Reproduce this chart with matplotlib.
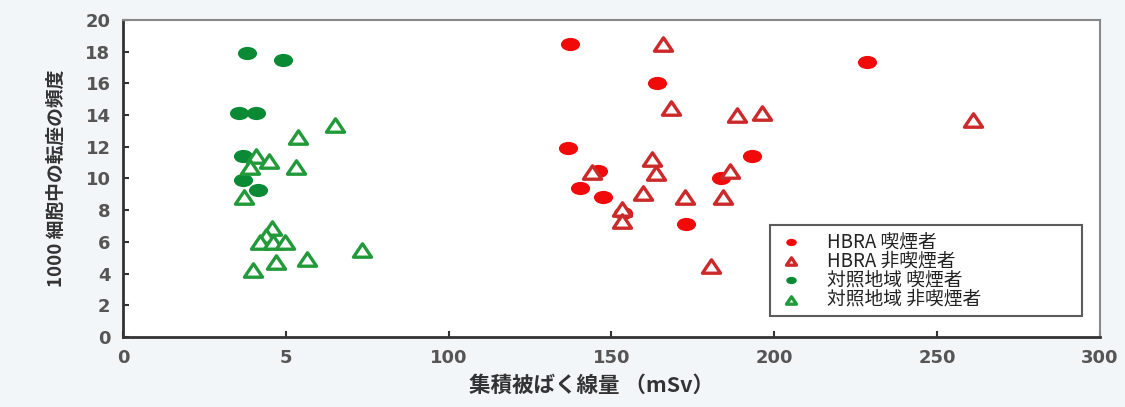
import numpy as np
import matplotlib
matplotlib.use("Agg")
import matplotlib.pyplot as plt
from matplotlib.path import Path

plt.rcParams["font.family"] = ["Noto Sans CJK JP", "DejaVu Sans"]

# ---------------------------------------------------------
# Data
# ---------------------------------------------------------
hbra_smoker_x = [137.2, 164.0, 228.4, 136.6, 193.1, 145.8, 140.3, 147.4, 183.6, 172.9, 153.5]
hbra_smoker_y = [18.5, 16.0, 17.35, 11.9, 11.4, 10.5, 9.4, 8.8, 10.0, 7.1, 7.8]

hbra_non_x = [165.8, 168.3, 188.5, 196.2, 261.0, 162.4, 163.6, 144.0, 159.7,
              172.6, 184.2, 186.4, 153.2, 153.2, 180.5]
hbra_non_y = [18.5, 14.45, 14.0, 14.1, 13.7, 11.2, 10.35, 10.4, 9.1,
              8.8, 8.8, 10.5, 8.1, 7.3, 4.5]

ctrl_smoker_x = [38.1, 49.1, 35.5, 40.8, 36.8, 36.8, 41.4]
ctrl_smoker_y = [17.9, 17.5, 14.1, 14.1, 11.4, 9.9, 9.3]

ctrl_non_x = [65.0, 53.7, 40.8, 44.8, 39.0, 53.1, 37.2, 45.7, 43.9,
              42.1, 46.0, 49.7, 73.4, 56.5, 47.0, 39.9]
ctrl_non_y = [13.4, 12.6, 11.4, 11.1, 10.7, 10.7, 8.8, 6.9, 6.4,
              6.0, 6.0, 6.0, 5.5, 4.9, 4.7, 4.2]

series_labels = ["HBRA 喫煙者", "HBRA 非喫煙者", "対照地域 喫煙者", "対照地域 非喫煙者"]

x_ticks = [0, 50, 100, 150, 200, 250, 300]
x_tick_labels = ["0", "5", "100", "150", "200", "250", "300"]
y_ticks = list(range(0, 21, 2))

# ---------------------------------------------------------
# Stretched markers (the source picture is squashed vertically)
# ---------------------------------------------------------
circ = Path.unit_circle()
oval = Path(circ.vertices * [1.45, 1.0], circ.codes)
tri = Path(np.array([[0, 1], [-1.35, -1], [1.35, -1], [0, 1]]),
           [Path.MOVETO, Path.LINETO, Path.LINETO, Path.CLOSEPOLY])

fig = plt.figure(figsize=(11.25, 4.07), dpi=100, facecolor="#f3f6f9")
ax = fig.add_axes([0.1093, 0.172, 0.8685, 0.779])
ax.set_facecolor("white")

ax.scatter(hbra_smoker_x, hbra_smoker_y, marker=oval, s=190, color="#f20a0a",
           linewidths=0, zorder=3, label=series_labels[0])
ax.scatter(hbra_non_x, hbra_non_y, marker=tri, s=170, facecolors="white",
           edgecolors="#cc2a2a", linewidths=2.4, zorder=4, label=series_labels[1])
ax.scatter(ctrl_smoker_x, ctrl_smoker_y, marker=oval, s=190, color="#0b8a36",
           linewidths=0, zorder=3, label=series_labels[2])
ax.scatter(ctrl_non_x, ctrl_non_y, marker=tri, s=170, facecolors="white",
           edgecolors="#229a3a", linewidths=2.4, zorder=4, label=series_labels[3])

ax.set_xlim(0, 300)
ax.set_ylim(0, 20)
ax.set_xticks(x_ticks)
ax.set_xticklabels(x_tick_labels)
ax.set_yticks(y_ticks)
ax.tick_params(direction="in", length=4, width=1.5, colors="#333333",
               labelcolor="#555555", labelsize=13, pad=9)
for lab in ax.get_xticklabels() + ax.get_yticklabels():
    lab.set_fontweight("bold")
    lab.set_fontfamily("DejaVu Sans")

for side in ["left", "bottom"]:
    ax.spines[side].set_color("#333333")
    ax.spines[side].set_linewidth(2)
for side in ["top", "right"]:
    ax.spines[side].set_color("#888888")
    ax.spines[side].set_linewidth(1.5)

ax.set_xlabel("集積被ばく線量 （mSv）", fontsize=15.5, fontweight="bold",
              color="#333333")
ax.xaxis.set_label_coords(0.48, -0.12)
ax.set_ylabel("1000 細胞中の転座の頻度", fontsize=13.5, fontweight="bold",
              color="#333333", labelpad=14)

# legend box spans roughly x 770-1082, y 230-316 px in the reference
leg = ax.legend(loc="lower left", bbox_to_anchor=(0.662, 0.066, 0.32, 0.27),
                mode="expand", fontsize=13.5, markerscale=0.55, frameon=True,
                fancybox=False, edgecolor="#333333", handlelength=1.6,
                handletextpad=1.1, labelspacing=-0.1, borderpad=0.35,
                borderaxespad=0)
leg.get_frame().set_linewidth(1.5)
for txt in leg.get_texts():
    txt.set_color("#222222")

fig.savefig("out.png", dpi=100, facecolor=fig.get_facecolor())
